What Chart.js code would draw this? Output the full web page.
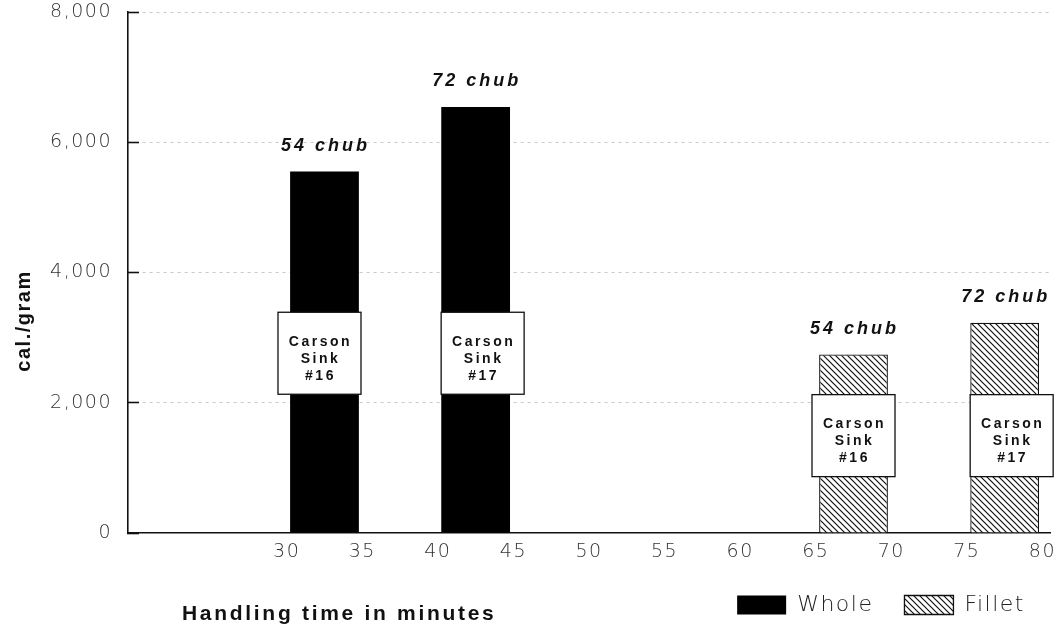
<!DOCTYPE html>
<html>
<head>
<meta charset="utf-8">
<script src="https://cdn.jsdelivr.net/npm/chart.js@4"></script>
<style>
  html, body { margin: 0; padding: 0; background: #fff; }
  #wrap { width: 1056px; height: 626px; }
</style>
</head>
<body>
<div id="wrap"><canvas id="myChart"></canvas></div>
<script>
// DATA (bars sit on the middle of each 5 minute slot)
const wholeMinutes = [32.5, 42.5];
const wholeCal = [5550, 6540];
const filletMinutes = [67.5, 77.5];
const filletCal = [2740, 3230];
const wholeChub = ['54 chub', '72 chub'];
const filletChub = ['54 chub', '72 chub'];
const wholeSink = ['#16', '#17'];
const filletSink = ['#16', '#17'];
const xTickValues = [30, 35, 40, 45, 50, 55, 60, 65, 70, 75, 80];
const yTickValues = [0, 2000, 4000, 6000, 8000];

const lightFont = '"DejaVu Sans", "Liberation Sans", sans-serif';
const boldFont = '"Liberation Sans", Arial, sans-serif';

// diagonal hatch for the fillet bars
function hatchPattern() {
	const c = document.createElement('canvas');
	c.width = 6; c.height = 6;
	const g = c.getContext('2d');
	g.fillStyle = '#fff';
	g.fillRect(0, 0, 6, 6);
	g.strokeStyle = '#111';
	g.lineWidth = 1.2;
	g.beginPath();
	g.moveTo(-1, -1); g.lineTo(7, 7);
	g.moveTo(-1, 5); g.lineTo(1, 7);
	g.moveTo(5, -1); g.lineTo(7, 1);
	g.stroke();
	return g.createPattern(c, 'repeat');
}

// the old typeset look is wide, so space the letters a bit
const spacing = {
	id: 'spacing',
	beforeLayout(chart) { chart.ctx.letterSpacing = '1.5px'; },
	beforeDraw(chart) { chart.ctx.letterSpacing = '1.5px'; },
};

// labels above the bars, the white "Carson Sink" boxes and the axis titles
const barNotes = {
	id: 'barNotes',
	afterDatasetsDraw(chart) {
		const ctx = chart.ctx;
		const y = chart.scales.y;
		const boxMid = [2760, 1495];
		const boxShift = [[-5, 7], [0, 7]];
		chart.data.datasets.forEach((ds, di) => {
			const meta = chart.getDatasetMeta(di);
			meta.data.forEach((bar, i) => {
				ctx.save();
				ctx.fillStyle = '#111';
				ctx.textAlign = 'center';
				ctx.textBaseline = 'middle';
				ctx.font = 'italic bold 18px ' + boldFont;
				ctx.letterSpacing = '3px';
				ctx.fillText(ds.chub[i], bar.x + 1, bar.y - 26);

				const cx = bar.x + boxShift[di][i];
				const cy = y.getPixelForValue(boxMid[di]);
				ctx.fillStyle = '#fff';
				ctx.strokeStyle = '#111';
				ctx.lineWidth = 1.3;
				ctx.fillRect(cx - 41.5, cy - 41, 83, 82);
				ctx.strokeRect(cx - 41.5, cy - 41, 83, 82);

				ctx.fillStyle = '#111';
				ctx.font = 'bold 14px ' + boldFont;
				ctx.letterSpacing = '2.5px';
				['Carson', 'Sink', ds.sink[i]].forEach((t, k) => {
					ctx.fillText(t, cx + 1, cy - 11 + k * 17);
				});
				ctx.restore();
			});
		});
	},
	afterDraw(chart) {
		const ctx = chart.ctx;
		ctx.save();
		ctx.fillStyle = '#111';
		ctx.textBaseline = 'middle';
		ctx.font = 'bold 21px ' + boldFont;
		ctx.letterSpacing = '2.7px';
		ctx.textAlign = 'left';
		ctx.fillText('Handling time in minutes', 182, 614);

		ctx.font = 'bold 20px ' + boldFont;
		ctx.letterSpacing = '1.5px';
		ctx.textAlign = 'center';
		ctx.translate(24, 321);
		ctx.rotate(-Math.PI / 2);
		ctx.fillText('cal./gram', 0, 0);
		ctx.restore();
	}
};

const config = {
	type: 'bar',
	data: {
		datasets: [{
			label: 'Whole',
			data: wholeMinutes.map((m, i) => ({x: m, y: wholeCal[i]})),
			backgroundColor: '#000',
			borderColor: '#000',
			borderWidth: 0,
			chub: wholeChub,
			sink: wholeSink,
		},
		{
			label: 'Fillet',
			data: filletMinutes.map((m, i) => ({x: m, y: filletCal[i]})),
			backgroundColor: hatchPattern(),
			borderColor: '#111',
			borderWidth: 1.3,
			chub: filletChub,
			sink: filletSink,
		}],
	},
	options: {
		responsive: true,
		maintainAspectRatio: false,
		animation: false,
		grouped: false,
		categoryPercentage: 1,
		barPercentage: 0.91,
		layout: { padding: { top: 12, right: 0, bottom: 0, left: 0 } },
		scales: {
			x: {
				type: 'linear',
				offset: false,
				min: 19.5,
				max: 80.5,
				afterBuildTicks: (s) => { s.ticks = xTickValues.map(v => ({value: v})); },
				afterFit: (s) => {
					s.height = 30;
					s.paddingLeft = 0;
					s.paddingRight = 6;
				},
				grid: { display: false, drawTicks: false },
				border: { display: true, color: '#111', width: 1.6 },
				ticks: {
					padding: 8,
					color: '#333',
					font: { family: lightFont, size: 19, weight: 200 },
					maxRotation: 0,
					autoSkip: false,
				},
			},
			y: {
				min: 0,
				max: 8000,
				afterBuildTicks: (s) => { s.ticks = yTickValues.map(v => ({value: v})); },
				afterFit: (s) => {
					s.width = 128;
					s.paddingTop = 10;
					s.paddingBottom = 10;
				},
				grid: {
					color: (c) => c.tick && c.tick.value === 0 ? 'rgba(0,0,0,0)' : '#c9c9c9',
					lineWidth: 1,
					tickLength: -11,
					tickColor: '#111',
					tickWidth: 1.6,
				},
				border: { display: true, color: '#111', width: 1.6, dash: [3, 4] },
				ticks: {
					padding: 27,
					color: '#333',
					font: { family: lightFont, size: 19, weight: 200 },
					callback: (v) => v.toLocaleString('en-US'),
				},
			},
		},
		plugins: {
			tooltip: { enabled: false },
			legend: {
				position: 'bottom',
				align: 'end',
				labels: {
					boxWidth: 49,
					boxHeight: 19,
					padding: 31,
					color: '#222',
					font: { family: lightFont, size: 22, weight: 200 },
				},
			},
		},
	},
	plugins: [spacing, barNotes],
};

const ctx = document.getElementById('myChart').getContext('2d');
const myChart = new Chart(ctx, config);
</script>
</body>
</html>
